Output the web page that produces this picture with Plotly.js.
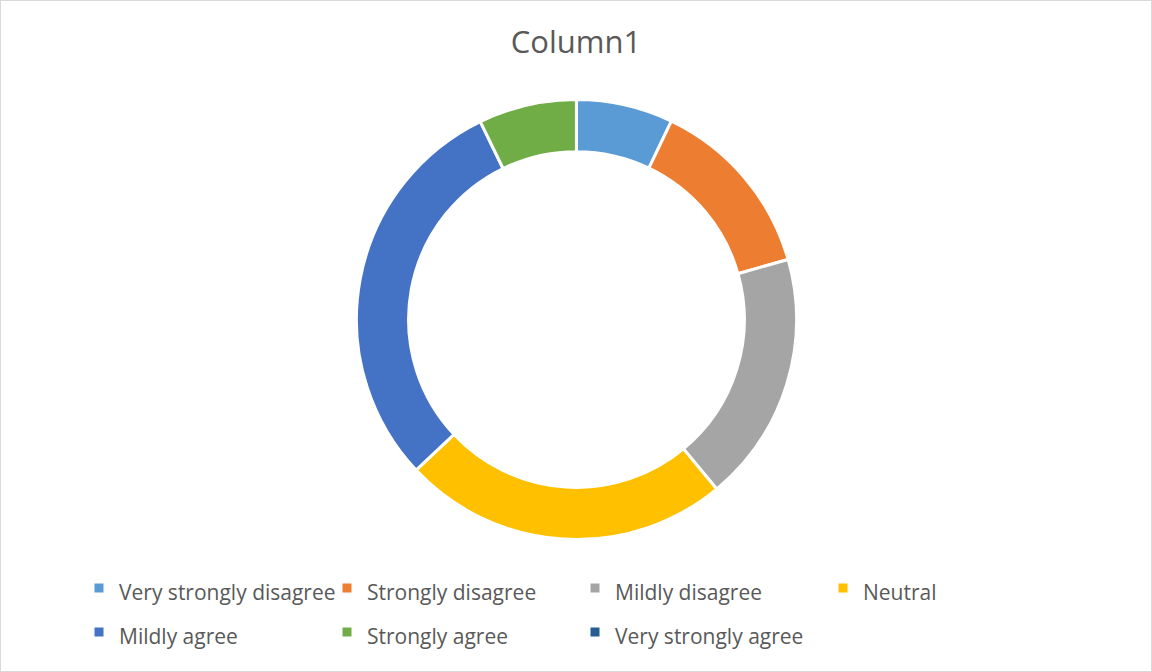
<!DOCTYPE html>
<html>
<head>
<meta charset="utf-8">
<script src="https://cdn.plot.ly/plotly-3.0.1.min.js"></script>
<style>
  html, body { margin: 0; padding: 0; background: #ffffff; }
  #chart { width: 1150px; height: 670px; border: 1px solid #d9d9d9; }
</style>
</head>
<body>
<div id="chart"></div>
<script>
const categories = [
  "Very strongly disagree",
  "Strongly disagree",
  "Mildly disagree",
  "Neutral",
  "Mildly agree",
  "Strongly agree",
  "Very strongly agree"
];
const values = [7.1, 13.5, 18.4, 24.0, 29.8, 7.2, 0];
const colors = ["#5B9BD5", "#ED7D31", "#A5A5A5", "#FFC000", "#4472C4", "#70AD47", "#255E91"];
const chartTitle = "Column1";

const legendLabels = categories.map(c => '<span style="font-size:21px">' + c + '</span>');

const trace = {
  type: "pie",
  labels: legendLabels,
  values: values,
  hole: 0.763,
  sort: false,
  direction: "clockwise",
  rotation: 0,
  textinfo: "none",
  hoverinfo: "label+percent",
  marker: { colors: colors, line: { color: "#ffffff", width: 3 } },
  domain: { x: [0.2004, 0.8004], y: [0.1962, 0.8530] },
  showlegend: true
};

const layout = {
  width: 1150,
  height: 670,
  margin: { l: 0, r: 0, t: 0, b: 0 },
  paper_bgcolor: "#ffffff",
  font: { family: "'Open Sans', sans-serif", color: "#595959" },
  title: {
    text: chartTitle,
    font: { family: "'Open Sans', sans-serif", size: 31, color: "#595959" },
    x: 0.5, xanchor: "center",
    y: 0.9388, yanchor: "middle"
  },
  legend: {
    orientation: "h",
    x: 78 / 1150, xanchor: "left",
    y: 1 - 560 / 670, yanchor: "top",
    entrywidth: 203,
    entrywidthmode: "pixels",
    itemwidth: 30,
    font: { family: "'Open Sans', sans-serif", size: 31.5, color: "#595959" },
    traceorder: "normal",
    bgcolor: "rgba(0,0,0,0)"
  }
};

Plotly.newPlot("chart", [trace], layout, { displayModeBar: false, staticPlot: true });
</script>
</body>
</html>
